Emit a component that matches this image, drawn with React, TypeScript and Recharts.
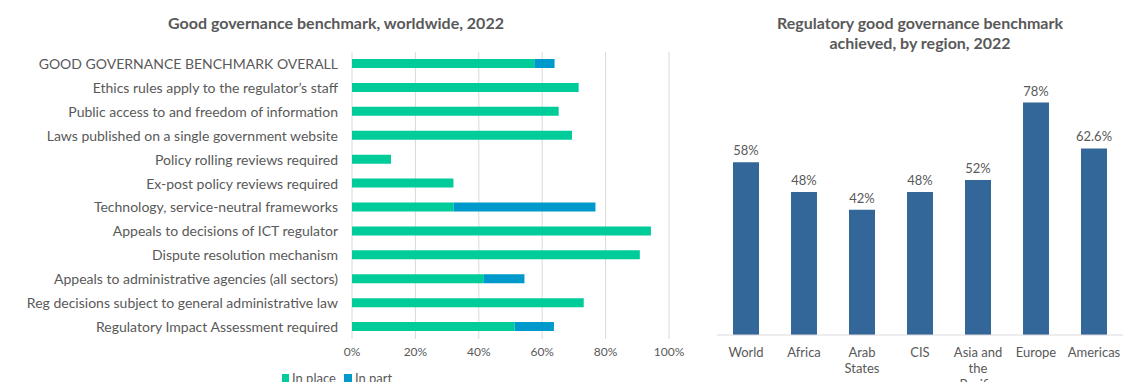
import { BarChart, Bar, XAxis, YAxis, CartesianGrid, LabelList, Text } from 'recharts'

const measures = [
  'GOOD GOVERNANCE BENCHMARK OVERALL',
  'Ethics rules apply to the regulator’s staff',
  'Public access to and freedom of information',
  'Laws published on a single government website',
  'Policy rolling reviews required',
  'Ex-post policy reviews required',
  'Technology, service-neutral frameworks',
  'Appeals to decisions of ICT regulator',
  'Dispute resolution mechanism',
  'Appeals to administrative agencies (all sectors)',
  'Reg decisions subject to general administrative law',
  'Regulatory Impact Assessment required',
]
const inPlace = [57.5, 71.5, 65.2, 69.4, 12.3, 32.0, 32.1, 94.3, 90.8, 41.6, 73.1, 51.3]
const inPart = [6.4, 0, 0, 0, 0, 0, 44.7, 0, 0, 12.8, 0, 12.4]
const pctTicks = [0, 20, 40, 60, 80, 100]

const regions = ['World', 'Africa', 'Arab States', 'CIS', 'Asia and the Pacific', 'Europe', 'Americas']
const achieved = [58, 48, 42, 48, 52, 78, 62.6]

const GREEN = '#00cc99'
const BLUE = '#0099cc'
const NAVY = '#336699'
const TEXT = '#595959'
const FONT = 'Lato, "Open Sans", sans-serif'

const benchmarkData = measures.map((name, i) => ({ name, inPlace: inPlace[i], inPart: inPart[i] }))
const regionData = regions.map((region, i) => ({ region, value: achieved[i] }))

function RegionTick(props: any) {
  const { x, y, payload } = props
  return (
    <Text
      x={x}
      y={y + 5}
      width={58}
      textAnchor="middle"
      verticalAnchor="start"
      lineHeight={16}
      fontSize={13}
      fill={TEXT}
      fontFamily={FONT}
    >
      {payload.value}
    </Text>
  )
}

const titleStyle: React.CSSProperties = {
  position: 'absolute',
  fontFamily: FONT,
  fontWeight: 700,
  fontSize: 16,
  color: TEXT,
  textAlign: 'center',
  lineHeight: '20px',
}

export default function App() {
  return (
    <div
      style={{
        position: 'absolute',
        left: 0,
        top: 0,
        width: 1124,
        height: 382,
        overflow: 'hidden',
        background: '#fff',
        fontFamily: FONT,
      }}
    >
      <div style={{ ...titleStyle, left: 136, width: 400, top: 13 }}>
        Good governance benchmark, worldwide, 2022
      </div>
      <div style={{ ...titleStyle, left: 720, width: 400, top: 13 }}>
        Regulatory good governance benchmark
        <br />
        achieved, by region, 2022
      </div>

      <div style={{ position: 'absolute', left: 0, top: 0 }}>
        <BarChart
          width={700}
          height={382}
          data={benchmarkData}
          layout="vertical"
          margin={{ top: 52, right: 31, bottom: 13, left: 0 }}
          barSize={9}
        >
          <CartesianGrid horizontal={false} stroke="#d9d9d9" />
          <XAxis
            type="number"
            domain={[0, 100]}
            ticks={pctTicks}
            tickFormatter={(v) => `${v}%`}
            axisLine={false}
            tickLine={false}
            height={30}
            tick={{ fontSize: 12, fill: TEXT, fontFamily: FONT }}
          />
          <YAxis
            type="category"
            dataKey="name"
            width={352}
            axisLine={false}
            tickLine={false}
            tickMargin={8}
            interval={0}
            tick={{ fontSize: 14, fill: TEXT, fontFamily: FONT }}
          />
          <Bar dataKey="inPlace" stackId="a" fill={GREEN} isAnimationActive={false} />
          <Bar dataKey="inPart" stackId="a" fill={BLUE} isAnimationActive={false} />
        </BarChart>
      </div>

      <div
        style={{
          position: 'absolute',
          left: 282,
          top: 370,
          display: 'flex',
          alignItems: 'center',
          fontSize: 13,
          color: TEXT,
          lineHeight: '16px',
          whiteSpace: 'nowrap',
        }}
      >
        <span style={{ width: 7, height: 8, background: GREEN, marginRight: 3 }} />
        <span style={{ marginRight: 8 }}>In place</span>
        <span style={{ width: 8, height: 8, background: BLUE, marginRight: 3 }} />
        <span>In part</span>
      </div>

      <div style={{ position: 'absolute', left: 700, top: 0 }}>
        <BarChart
          width={424}
          height={382}
          data={regionData}
          margin={{ top: 37, right: 1, bottom: 0, left: 17 }}
          barSize={26}
        >
          <XAxis
            dataKey="region"
            interval={0}
            height={47}
            axisLine={{ stroke: '#d9d9d9' }}
            tickLine={false}
            tick={<RegionTick />}
          />
          <YAxis hide domain={[0, 100]} />
          <Bar dataKey="value" fill={NAVY} isAnimationActive={false}>
            <LabelList
              dataKey="value"
              position="top"
              offset={7}
              formatter={(v: any) => `${v}%`}
              fontSize={13}
              fill={TEXT}
              fontFamily={FONT}
            />
          </Bar>
        </BarChart>
      </div>
    </div>
  )
}
